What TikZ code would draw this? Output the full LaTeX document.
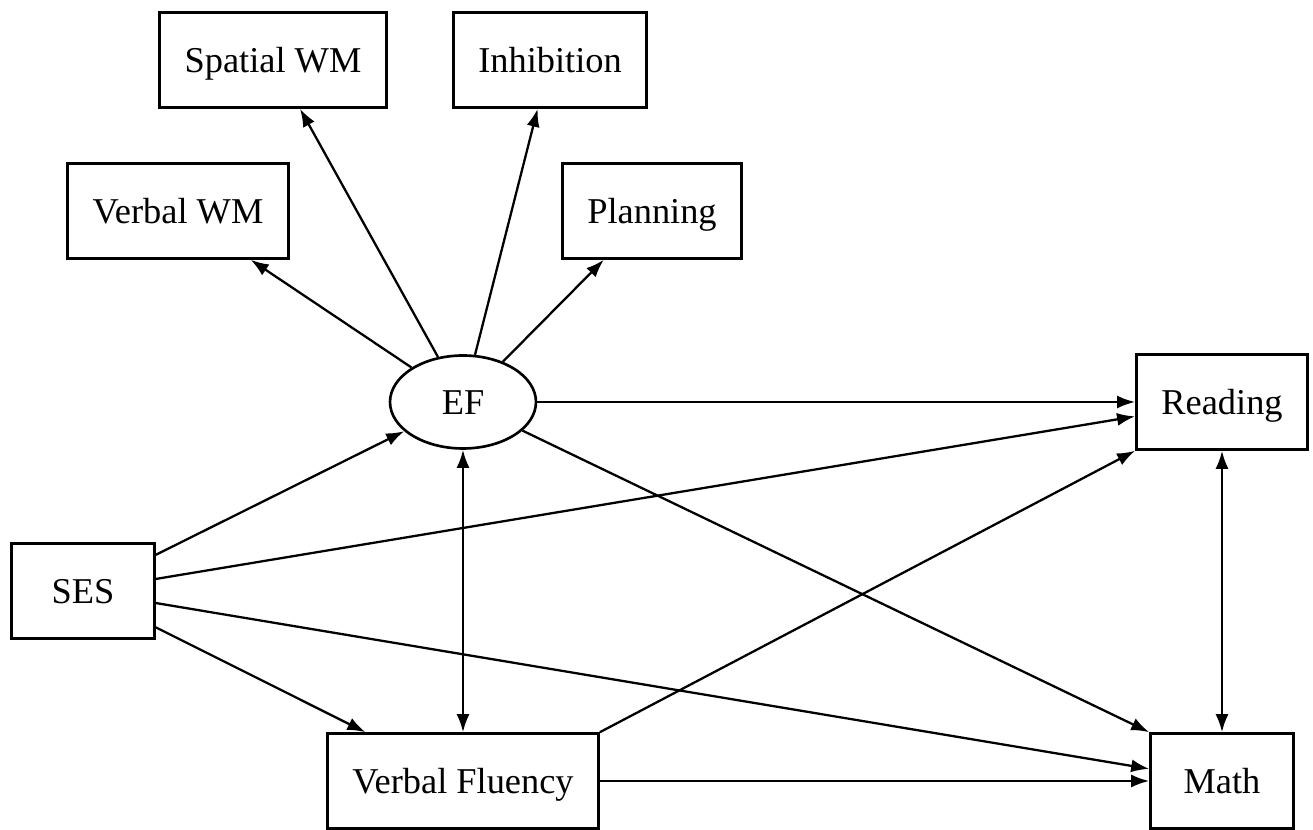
\documentclass[tikz,border=0pt]{standalone}
\usepackage{fontspec}
\setmainfont{Liberation Serif}
\usetikzlibrary{arrows.meta, shapes.geometric}

\begin{document}
\begin{tikzpicture}[x=0.02cm, y=-0.02cm,
        box/.style={draw, line width=1.5pt, minimum width=2.86cm, minimum height=1.9cm,
            inner xsep=0.5cm, text height=13.7pt, text depth=0pt, font=\fontsize{20.7}{24}\selectfont},
        latent/.style={draw, ellipse, line width=1.5pt, minimum width=2.92cm, minimum height=1.86cm,
            inner sep=0pt, text height=13.7pt, text depth=0pt, font=\fontsize{20.7}{24}\selectfont},
        reg/.style={-{Latex[length=0.36cm, width=0.26cm]}, line width=1.3pt},
        cov/.style={{Latex[length=0.36cm, width=0.26cm]}-{Latex[length=0.36cm, width=0.26cm]}, line width=1.3pt}]
    \useasboundingbox (0,0) rectangle (1313,830);

    % indicators of EF
    \node[box] (swm) at (273, 60) {Spatial WM};
    \node[box] (inh) at (550, 60) {Inhibition};
    \node[box] (vwm) at (178, 211) {Verbal WM};
    \node[box] (plan) at (652, 211) {Planning};

    \node[latent] (ef) at (463, 402) {EF};
    \node[box] (read) at (1222, 402) {Reading};
    \node[box] (ses) at (83, 591) {SES};
    \node[box] (vf) at (463, 781) {Verbal Fluency};
    \node[box] (math) at (1222, 781) {Math};

    \draw[reg] (ef) -- (vwm);
    \draw[reg] (ef) -- (swm);
    \draw[reg] (ef) -- (inh);
    \draw[reg] (ef) -- (plan);

    \draw[reg] (ses) -- (ef);
    \draw[reg] (ses) -- (read);
    \draw[reg] (ses) -- (math);
    \draw[reg] (ses) -- (vf);

    \draw[reg] (ef) -- (read);
    \draw[reg] (ef) -- (math.north west);
    \draw[reg] (vf.north east) -- (read.south west);
    \draw[reg] (vf) -- (math);

    \draw[cov] (ef) -- (vf);
    \draw[cov] (read) -- (math);
\end{tikzpicture}
\end{document}
